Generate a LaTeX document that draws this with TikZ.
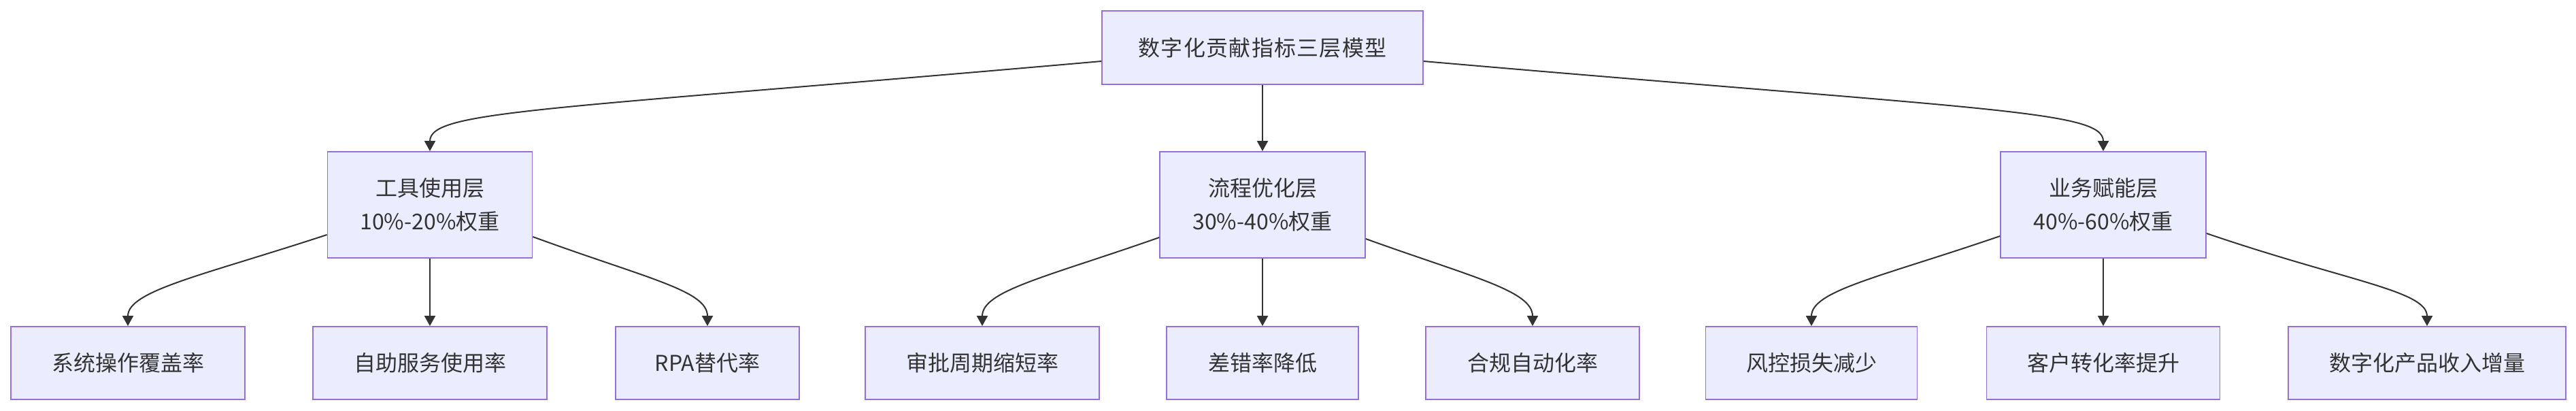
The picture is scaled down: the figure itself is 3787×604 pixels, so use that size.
\documentclass[tikz,border=0pt]{standalone}
\usepackage{fontspec}
\setmainfont{Noto Sans CJK SC}
\usetikzlibrary{arrows.meta,calc}
\definecolor{boxfill}{HTML}{ECECFF}
\definecolor{boxdraw}{HTML}{9370DB}
\definecolor{ink}{HTML}{333333}
\begin{document}
\begin{tikzpicture}[x=0.5pt,y=-0.5pt,
  box/.style={draw=boxdraw,fill=boxfill,line width=0.9pt,text=ink,align=center,
    inner sep=0pt,font=\fontsize{16pt}{24.3pt}\selectfont},
  bw/.style={minimum width=#1*0.5pt},
  bh/.style={minimum height=#1*0.5pt},
  edge/.style={draw=ink,line width=1pt,-{Triangle[length=7.5pt,width=8pt]}}]
\useasboundingbox (0,0) rectangle (3787,604);
% top
\node[box,bw=472,bh=108,font=\fontsize{16pt}{24.3pt}\selectfont\addfontfeature{LetterSpace=4}] (top) at (1856,70) {数字化贡献指标三层模型};
% level 2
\node[box,bw=301,bh=156] (tool) at (632,301) {工具使用层\\10\%-20\%权重};
\node[box,bw=302,bh=156] (proc) at (1856,301) {流程优化层\\30\%-40\%权重};
\node[box,bw=302,bh=156] (biz) at (3092,301) {业务赋能层\\40\%-60\%权重};
% level 3
\node[box,bw=344,bh=107] (sys) at (188,533.5) {系统操作覆盖率};
\node[box,bw=344,bh=107] (self) at (632,533.5) {自助服务使用率};
\node[box,bw=270,bh=107] (rpa) at (1040,533.5) {RPA替代率};
\node[box,bw=344,bh=107] (appr) at (1444,533.5) {审批周期缩短率};
\node[box,bw=282,bh=107] (err) at (1856,533.5) {差错率降低};
\node[box,bw=314,bh=107] (comp) at (2253,533.5) {合规自动化率};
\node[box,bw=311,bh=107] (risk) at (2663,533.5) {风控损失减少};
\node[box,bw=343,bh=107] (cust) at (3092,533.5) {客户转化率提升};
\node[box,bw=408,bh=107] (prod) at (3568,533.5) {数字化产品收入增量};
% edges top -> level 2
\draw[edge] ($(top.west)+(0,20)$) .. controls +(-820,72) and +(0,-60) .. (tool.north);
\draw[edge] (top.south) -- (proc.north);
\draw[edge] ($(top.east)+(0,20)$) .. controls +(830,72) and +(0,-60) .. (biz.north);
% tool
\draw[edge] ($(tool.west)+(0,44)$) .. controls +(-183,60) and +(0,-52) .. (sys.north);
\draw[edge] (tool.south) -- (self.north);
\draw[edge] ($(tool.east)+(0,47)$) .. controls +(170,62) and +(0,-52) .. (rpa.north);
% proc
\draw[edge] ($(proc.west)+(0,48)$) .. controls +(-165,58) and +(0,-52) .. (appr.north);
\draw[edge] (proc.south) -- (err.north);
\draw[edge] ($(proc.east)+(0,50)$) .. controls +(155,56) and +(0,-52) .. (comp.north);
% biz
\draw[edge] ($(biz.west)+(0,46)$) .. controls +(-175,60) and +(0,-52) .. (risk.north);
\draw[edge] (biz.south) -- (cust.north);
\draw[edge] ($(biz.east)+(0,42)$) .. controls +(205,70) and +(0,-52) .. (prod.north);
\end{tikzpicture}
\end{document}
